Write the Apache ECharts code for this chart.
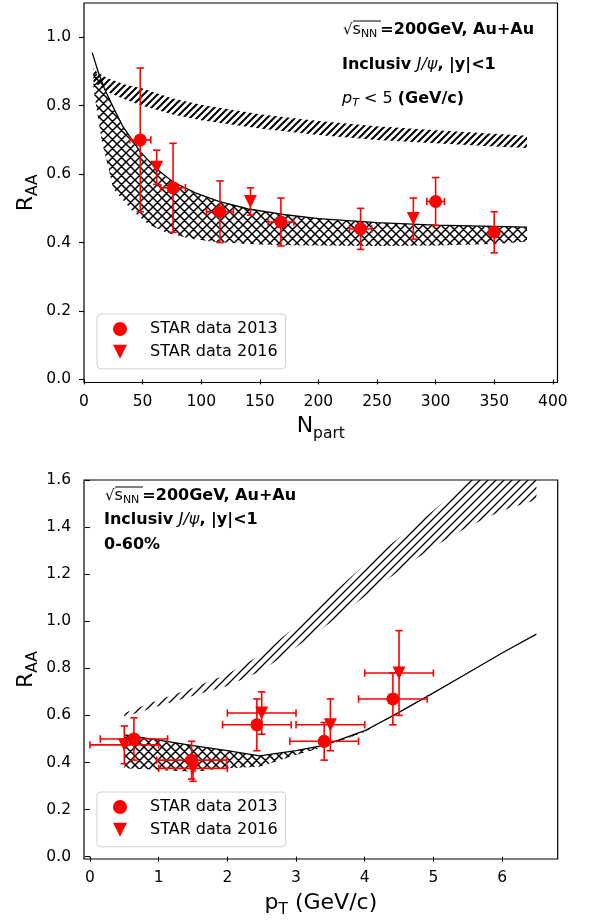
<!DOCTYPE html>
<html>
<head>
<meta charset="utf-8">
<script src="https://cdn.jsdelivr.net/npm/echarts@6/dist/echarts.min.js"></script>
<style>
html,body{margin:0;padding:0;background:#fff;}
#chart{width:589px;height:920px;}
</style>
</head>
<body>
<div id="chart"></div>
<script>
// ---------------- data: top panel (R_AA vs N_part) ----------------
const npart2013 = [48, 76, 116, 168, 236, 300, 350];
const raa2013 = [0.70, 0.56, 0.49, 0.46, 0.44, 0.52, 0.43];
const raa2013Err = [0.21, 0.13, 0.09, 0.07, 0.06, 0.07, 0.06];
const npart2013Err = [9, 10.5, 11.5, 11, 9.5, 7.5, 0];

const npart2016 = [62, 142, 281];
const raa2016 = [0.62, 0.52, 0.47];
const raa2016Err = [0.05, 0.04, 0.06];
const npart2016Err = [0, 0, 0];

// theory curve (solid line)
const lineNpart = [7, 12, 18, 25, 33, 48, 62, 76, 95, 115, 140, 170, 200, 250, 300, 350, 378];
const lineRaa = [0.955, 0.90, 0.845, 0.795, 0.74, 0.665, 0.615, 0.577, 0.545, 0.52, 0.498, 0.482, 0.47, 0.458, 0.451, 0.447, 0.445];

// striped band
const bandANpart = [8, 20, 35, 50, 75, 100, 150, 200, 250, 300, 350, 378];
const bandAUpper = [0.905, 0.88, 0.862, 0.85, 0.822, 0.803, 0.775, 0.755, 0.74, 0.728, 0.718, 0.712];
const bandALower = [0.87, 0.84, 0.818, 0.80, 0.775, 0.757, 0.733, 0.714, 0.70, 0.69, 0.681, 0.676];

// cross-hatched band
const bandBNpart = [8, 15, 25, 40, 55, 70, 90, 110, 140, 170, 200, 250, 300, 350, 378];
const bandBUpper = [0.91, 0.87, 0.795, 0.70, 0.635, 0.59, 0.55, 0.525, 0.50, 0.482, 0.47, 0.458, 0.451, 0.447, 0.445];
const bandBLower = [0.85, 0.70, 0.557, 0.497, 0.453, 0.429, 0.412, 0.402, 0.396, 0.392, 0.391, 0.390, 0.391, 0.396, 0.402];

// ---------------- data: bottom panel (R_AA vs pT) ----------------
const pt2013 = [0.64, 1.48, 2.43, 3.41, 4.41];
const raaPt2013 = [0.50, 0.41, 0.56, 0.49, 0.67];
const raaPt2013Err = [0.09, 0.08, 0.11, 0.08, 0.11];
const pt2013Err = [0.49, 0.51, 0.5, 0.5, 0.5];

const pt2016 = [0.50, 1.50, 2.50, 3.50, 4.50];
const raaPt2016 = [0.475, 0.375, 0.61, 0.56, 0.78];
const raaPt2016Err = [0.08, 0.055, 0.09, 0.11, 0.18];
const pt2016Err = [0.5, 0.5, 0.5, 0.5, 0.5];

const linePt = [0.5, 1.0, 1.5, 2.0, 2.47, 3.0, 3.42, 4.0, 4.42, 4.95, 5.5, 6.0, 6.5];
const linePtRaa = [0.517, 0.495, 0.472, 0.45, 0.428, 0.45, 0.474, 0.535, 0.60, 0.687, 0.78, 0.865, 0.945];

const bandCPt = [0.5, 1.0, 1.5, 2.0, 2.5, 3.0, 3.5, 4.0, 4.5, 5.0, 5.5, 6.0, 6.5];
const bandCUpper = [0.61, 0.665, 0.718, 0.775, 0.86, 0.98, 1.11, 1.24, 1.355, 1.47, 1.595, 1.72, 1.85];
const bandCLower = [0.593, 0.64, 0.683, 0.725, 0.79, 0.89, 0.995, 1.105, 1.215, 1.315, 1.40, 1.47, 1.515];

const bandDPt = [0.5, 1.0, 1.5, 2.0, 2.47, 3.0, 3.42, 4.0, 4.42];
const bandDUpper = [0.517, 0.495, 0.472, 0.45, 0.428, 0.45, 0.474, 0.535, 0.60];
const bandDLower = [0.375, 0.368, 0.361, 0.375, 0.382, 0.432, 0.467, 0.53, 0.60];

// tick labels
const npartTicks = [0, 50, 100, 150, 200, 250, 300, 350, 400];
const ptTicks = [0, 1, 2, 3, 4, 5, 6];
const raaTicksTop = [0, 0.2, 0.4, 0.6, 0.8, 1.0];
const raaTicksBottom = [0, 0.2, 0.4, 0.6, 0.8, 1.0, 1.2, 1.4, 1.6];

const legendNames = ['STAR data 2013', 'STAR data 2016'];

// ---------------- helpers ----------------
const FONT = 'DejaVu Sans';
const RED = '#ff0000';
const TRI = 'path://M0,0L2,0L1,2Z';

function hatch(size, lw, cross) {
  const c = document.createElement('canvas');
  c.width = size; c.height = size;
  const g = c.getContext('2d');
  g.strokeStyle = '#000';
  g.lineWidth = lw;
  g.beginPath();
  g.moveTo(-1, 1); g.lineTo(1, -1);
  g.moveTo(0, size); g.lineTo(size, 0);
  g.moveTo(size - 1, size + 1); g.lineTo(size + 1, size - 1);
  if (cross) {
    g.moveTo(0, 0); g.lineTo(size, size);
    g.moveTo(-1, size - 1); g.lineTo(1, size + 1);
    g.moveTo(size - 1, -1); g.lineTo(size + 1, 1);
  }
  g.stroke();
  return { image: c, repeat: 'repeat' };
}
const stripes = hatch(7, 2, false);
const stripesThin = hatch(8, 1.3, false);
const crosses = hatch(9, 1.5, true);

function bandSeries(gi, xs, up, lo, fill) {
  return {
    type: 'custom', xAxisIndex: gi, yAxisIndex: gi, clip: true, silent: true, z: 1,
    data: [[xs[0], up[0]]],
    renderItem: function (params, api) {
      const pts = [];
      for (let i = 0; i < xs.length; i++) pts.push(api.coord([xs[i], up[i]]));
      for (let i = xs.length - 1; i >= 0; i--) pts.push(api.coord([xs[i], lo[i]]));
      const cs = params.coordSys;
      return {
        type: 'polygon',
        shape: { points: pts },
        style: { fill: fill, stroke: null },
        clipPath: { type: 'rect', shape: { x: cs.x, y: cs.y, width: cs.width, height: cs.height } }
      };
    }
  };
}

function lineSeries(gi, xs, ys) {
  return {
    type: 'line', xAxisIndex: gi, yAxisIndex: gi, silent: true, z: 2,
    showSymbol: false, symbol: 'none', smooth: false,
    lineStyle: { color: '#000', width: 1.3 },
    itemStyle: { color: '#000' },
    data: xs.map((x, i) => [x, ys[i]])
  };
}

function errSeries(gi, xs, ys, yerr, xerr) {
  const cap = 3.7;
  return {
    type: 'custom', xAxisIndex: gi, yAxisIndex: gi, silent: true, z: 3,
    encode: { x: 0, y: 1 },
    data: xs.map((x, i) => [x, ys[i], xerr[i], yerr[i]]),
    renderItem: function (params, api) {
      const x = api.value(0), y = api.value(1), xe = api.value(2), ye = api.value(3);
      const top = api.coord([x, y + ye]);
      const bot = api.coord([x, y - ye]);
      const st = { stroke: RED, lineWidth: 1.6 };
      const ch = [
        { type: 'line', shape: { x1: top[0], y1: top[1], x2: bot[0], y2: bot[1] }, style: st },
        { type: 'line', shape: { x1: top[0] - cap, y1: top[1], x2: top[0] + cap, y2: top[1] }, style: st },
        { type: 'line', shape: { x1: bot[0] - cap, y1: bot[1], x2: bot[0] + cap, y2: bot[1] }, style: st }
      ];
      if (xe > 0) {
        const l = api.coord([x - xe, y]);
        const r = api.coord([x + xe, y]);
        ch.push({ type: 'line', shape: { x1: l[0], y1: l[1], x2: r[0], y2: r[1] }, style: st });
        ch.push({ type: 'line', shape: { x1: l[0], y1: l[1] - cap, x2: l[0], y2: l[1] + cap }, style: st });
        ch.push({ type: 'line', shape: { x1: r[0], y1: r[1] - cap, x2: r[0], y2: r[1] + cap }, style: st });
      }
      return { type: 'group', children: ch };
    }
  };
}

function scatterSeries(gi, name, xs, ys, symbol) {
  return {
    type: 'scatter', name: name, xAxisIndex: gi, yAxisIndex: gi, z: 4,
    symbol: symbol, symbolSize: 13, symbolKeepAspect: true,
    itemStyle: { color: RED, opacity: 1 },
    data: xs.map((x, i) => [x, ys[i]])
  };
}

const nameRich = {
  m: { fontSize: 22, fontFamily: FONT, color: '#000', lineHeight: 26, verticalAlign: 'top' },
  sub: { fontSize: 15.5, fontFamily: FONT, color: '#000', lineHeight: 15, padding: [10, 0, 0, 0], verticalAlign: 'top' }
};

function xAxisCfg(gi, min, max, ticks, name) {
  return {
    type: 'value', gridIndex: gi, min: min, max: max,
    axisLine: { show: false },
    axisTick: { show: true, inside: false, length: 5, customValues: ticks, lineStyle: { color: '#000', width: 1.1 } },
    axisLabel: { customValues: ticks, margin: 11, fontSize: 15.5, fontFamily: FONT, color: '#000' },
    splitLine: { show: false },
    name: name, nameLocation: 'middle', nameGap: 33, nameMoveOverlap: false,
    nameTextStyle: { verticalAlign: 'top', rich: nameRich }
  };
}
function yAxisCfg(gi, min, max, ticks) {
  return {
    type: 'value', gridIndex: gi, min: min, max: max,
    axisLine: { show: false },
    axisTick: { show: true, inside: false, length: 5, customValues: ticks, lineStyle: { color: '#000', width: 1.1 } },
    axisLabel: { customValues: ticks, margin: 13, fontSize: 15.5, fontFamily: FONT, color: '#000', formatter: v => v.toFixed(1) },
    splitLine: { show: false },
    name: '{m|R}{sub|AA}', nameLocation: 'middle', nameRotate: 90, nameGap: 43, nameMoveOverlap: false,
    nameTextStyle: { rich: nameRich }
  };
}

function legendCfg(top) {
  return {
    orient: 'vertical', left: 97, top: top,
    padding: [7, 8, 9, 16], itemGap: 6.8,
    itemWidth: 36, itemHeight: 14,
    borderColor: '#d0d0d0', borderWidth: 1, borderRadius: 4,
    backgroundColor: 'rgba(255,255,255,0.8)',
    selectedMode: false,
    textStyle: { fontSize: 16, fontFamily: FONT, color: '#000', lineHeight: 14, padding: [0, 0, 0, 7] },
    data: [
      { name: legendNames[0], icon: 'circle' },
      { name: legendNames[1], icon: TRI }
    ]
  };
}

const richAnn = {
  r: { fontSize: 15, fontFamily: FONT, color: '#000', lineHeight: 20 },
  s: { fontSize: 16, fontFamily: FONT, color: '#000', lineHeight: 20 },
  sub: { fontSize: 11, fontFamily: FONT, color: '#000', lineHeight: 13, verticalAlign: 'bottom', padding: [0, 3, 0, 0] },
  b: { fontSize: 16, fontFamily: FONT, fontWeight: 'bold', color: '#000', lineHeight: 20 },
  i: { fontSize: 16, fontFamily: FONT, fontStyle: 'italic', color: '#000', lineHeight: 20 },
  isub: { fontSize: 11, fontFamily: FONT, fontStyle: 'italic', color: '#000', lineHeight: 13, verticalAlign: 'bottom' },
  n: { fontSize: 16, fontFamily: FONT, color: '#000', lineHeight: 20 }
};
function ann(x, y, text) {
  return { type: 'text', x: x, y: y, silent: true, z: 10,
    style: { text: text, rich: richAnn, verticalAlign: 'middle', align: 'left' } };
}
function overline(x1, x2, y) {
  return { type: 'line', silent: true, z: 10, shape: { x1: x1, y1: y, x2: x2, y2: y }, style: { stroke: '#000', lineWidth: 1 } };
}

const chart = echarts.init(document.getElementById('chart'), null, { renderer: 'canvas' });
chart.setOption({
  animation: false,
  backgroundColor: '#fff',
  grid: [
    { left: 84, top: 3, width: 473.5, height: 379.5, show: true, borderColor: '#000', borderWidth: 1.2, backgroundColor: 'transparent' },
    { left: 84, top: 480, width: 473.7, height: 379, show: true, borderColor: '#000', borderWidth: 1.2, backgroundColor: 'transparent' }
  ],
  xAxis: [
    xAxisCfg(0, 0, 404, npartTicks, '{m|N}{sub|part}'),
    xAxisCfg(1, -0.087, 6.81, ptTicks, '{m|p}{sub|T}{m| (GeV/c)}')
  ],
  yAxis: [
    yAxisCfg(0, -0.009, 1.1, raaTicksTop),
    yAxisCfg(1, -0.01, 1.6, raaTicksBottom)
  ],
  legend: [legendCfg(314), legendCfg(792)],
  series: [
    bandSeries(0, bandANpart, bandAUpper, bandALower, stripes),
    bandSeries(0, bandBNpart, bandBUpper, bandBLower, crosses),
    lineSeries(0, lineNpart, lineRaa),
    errSeries(0, npart2013, raa2013, raa2013Err, npart2013Err),
    errSeries(0, npart2016, raa2016, raa2016Err, npart2016Err),
    scatterSeries(0, legendNames[0], npart2013, raa2013, 'circle'),
    scatterSeries(0, legendNames[1], npart2016, raa2016, TRI),

    bandSeries(1, bandCPt, bandCUpper, bandCLower, stripesThin),
    bandSeries(1, bandDPt, bandDUpper, bandDLower, crosses),
    lineSeries(1, linePt, linePtRaa),
    errSeries(1, pt2013, raaPt2013, raaPt2013Err, pt2013Err),
    errSeries(1, pt2016, raaPt2016, raaPt2016Err, pt2016Err),
    scatterSeries(1, legendNames[0], pt2013, raaPt2013, 'circle'),
    scatterSeries(1, legendNames[1], pt2016, raaPt2016, TRI)
  ],
  graphic: [
    ann(343, 30, '{r|√}{s|s}{sub|NN}{b|=200GeV, Au+Au}'),
    overline(353, 381, 21),
    ann(342, 65, '{b|Inclusiv }{i|J/ψ}{b|, |y|<1}'),
    ann(342, 99, '{i|p}{isub|T}{n| < 5 }{b|(GeV/c)}'),
    ann(105, 496, '{r|√}{s|s}{sub|NN}{b|=200GeV, Au+Au}'),
    overline(115, 143, 487),
    ann(104, 520, '{b|Inclusiv }{i|J/ψ}{b|, |y|<1}'),
    ann(104, 545, '{b|0-60%}')
  ]
});
</script>
</body>
</html>
